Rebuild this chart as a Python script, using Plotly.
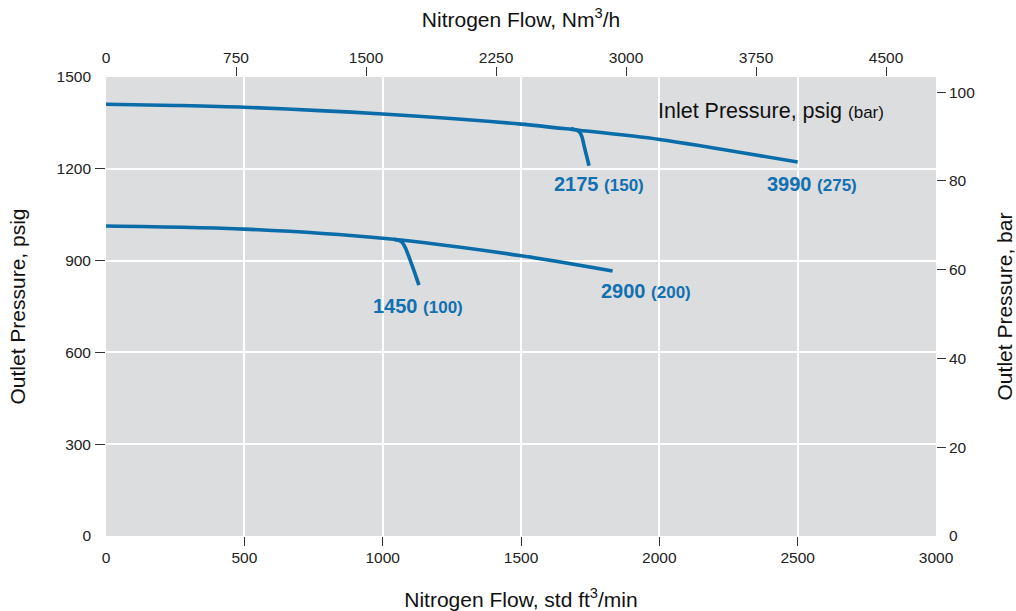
import plotly.graph_objects as go

# Flow in std ft3/min, outlet pressure in psig
flow_3990 = [0, 250, 500, 1000, 1500, 1700, 2000, 2500]
outlet_3990 = [1411, 1407, 1401, 1379, 1346, 1327, 1296, 1222]

flow_2175 = [1680, 1700, 1712, 1720, 1730, 1746]
outlet_2175 = [1332, 1327, 1320, 1305, 1268, 1210]

flow_2900 = [0, 500, 1000, 1500, 1831]
outlet_2900 = [1013, 1003, 973, 916, 866]

flow_1450 = [1040, 1058, 1070, 1082, 1100, 1116, 1131]
outlet_1450 = [970, 966, 960, 942, 900, 860, 820]

# Inlet pressure of each curve: psig and bar
inlet_psig = [3990, 2175, 2900, 1450]
inlet_bar = [275, 150, 200, 100]

# Axis ticks
scfm_ticks = [0, 500, 1000, 1500, 2000, 2500, 3000]
nm3h_ticks = [0, 750, 1500, 2250, 3000, 3750, 4500]
psig_ticks = [0, 300, 600, 900, 1200, 1500]
bar_ticks = [0, 20, 40, 60, 80, 100]

SCFM_TO_NM3H = 1.596
PSI_PER_BAR = 14.5038
X_MAX = 3000
Y_MAX = 1500

BLUE = "#0a6ca9"
LABEL_BLUE = "#1170b0"
FONT = "Liberation Sans, Arial, Helvetica, sans-serif"
TICK_COLOR = "#333333"

series = [
    (flow_3990, outlet_3990),
    (flow_2175, outlet_2175),
    (flow_2900, outlet_2900),
    (flow_1450, outlet_1450),
]
# pixel offsets of each end-point label from the curve end
label_shift = [(14, -22), (10, -18), (33, -20), (-1, -21)]

fig = go.Figure()
for (fx, fy) in series:
    fig.add_trace(go.Scatter(
        x=fx, y=fy, mode="lines",
        line=dict(color=BLUE, width=3.6, shape="spline", smoothing=0.8),
        hoverinfo="skip", showlegend=False,
    ))

# carriers for the secondary axes
fig.add_trace(go.Scatter(x=[0], y=[0], xaxis="x2", yaxis="y", mode="markers",
                         marker=dict(opacity=0), hoverinfo="skip", showlegend=False))
fig.add_trace(go.Scatter(x=[0], y=[0], xaxis="x", yaxis="y2", mode="markers",
                         marker=dict(opacity=0), hoverinfo="skip", showlegend=False))

annotations = []
for (fx, fy), psig, bar, (dx, dy) in zip(series, inlet_psig, inlet_bar, label_shift):
    annotations.append(dict(
        x=fx[-1], y=fy[-1], xref="x", yref="y",
        text=f"<b>{psig}</b> <span style='font-size:17px'><b>({bar})</b></span>",
        showarrow=False, xshift=dx, yshift=dy,
        font=dict(family=FONT, size=20, color=LABEL_BLUE),
        xanchor="center", yanchor="middle",
    ))

annotations.append(dict(
    x=0.6625, y=0.9255, xref="paper", yref="paper",
    text="Inlet Pressure, psig <span style='font-size:17px'>(bar)</span>",
    showarrow=False, xanchor="left", yanchor="middle",
    font=dict(family=FONT, size=21.5, color="#111111"),
))

tick_font = dict(family=FONT, size=15.5, color="#222222")
title_font = dict(family=FONT, size=21, color="#111111")

fig.update_layout(
    width=1016, height=611,
    margin=dict(l=106, r=80, t=77, b=75),
    paper_bgcolor="white",
    plot_bgcolor="#dcdddf",
    annotations=annotations,
    xaxis=dict(
        range=[0, X_MAX], tickvals=scfm_ticks, ticks="", ticklabelstandoff=10,
        showgrid=False, zeroline=False, showline=False, tickfont=tick_font,
        minor=dict(tickvals=scfm_ticks[1:-1], ticks="outside", ticklen=9,
                   tickcolor=TICK_COLOR, tickwidth=1,
                   showgrid=True, gridcolor="white", gridwidth=1.5),
        title=dict(text="Nitrogen Flow, std ft<sup>3</sup>/min", font=title_font, standoff=27),
        automargin=False,
    ),
    xaxis2=dict(
        overlaying="x", side="top", anchor="y",
        range=[0, X_MAX * SCFM_TO_NM3H], tickvals=nm3h_ticks, ticks="", ticklabelstandoff=10,
        showgrid=False, zeroline=False, showline=False, tickfont=tick_font,
        minor=dict(tickvals=nm3h_ticks[1:], ticks="outside", ticklen=9,
                   tickcolor=TICK_COLOR, tickwidth=1, showgrid=False),
        title=dict(text="Nitrogen Flow, Nm<sup>3</sup>/h", font=title_font, standoff=15),
        automargin=False,
    ),
    yaxis=dict(
        range=[0, Y_MAX], tickvals=psig_ticks, ticks="", ticklabelstandoff=14,
        showgrid=False, zeroline=False, showline=False, tickfont=tick_font,
        minor=dict(tickvals=psig_ticks[1:-1], ticks="outside", ticklen=10,
                   tickcolor=TICK_COLOR, tickwidth=1,
                   showgrid=True, gridcolor="white", gridwidth=1.5),
        title=dict(text="Outlet Pressure, psig", font=title_font, standoff=25),
        automargin=False,
    ),
    yaxis2=dict(
        overlaying="y", side="right", anchor="x",
        range=[0, Y_MAX / PSI_PER_BAR], tickvals=bar_ticks, ticks="", ticklabelstandoff=12,
        showgrid=False, zeroline=False, showline=False, tickfont=tick_font,
        minor=dict(tickvals=bar_ticks[1:], ticks="outside", ticklen=9,
                   tickcolor=TICK_COLOR, tickwidth=1, showgrid=False),
        title=dict(text="Outlet Pressure, bar", font=title_font, standoff=23),
        automargin=False,
    ),
)

fig.write_html("out.html")
